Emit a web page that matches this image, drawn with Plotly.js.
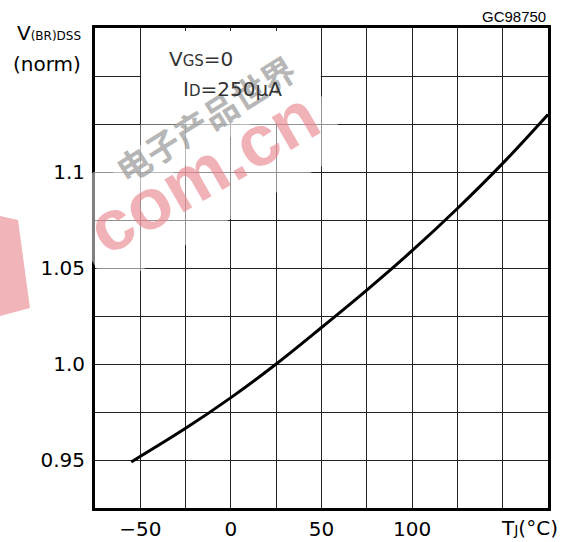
<!DOCTYPE html>
<html>
<head>
<meta charset="utf-8">
<script src="https://cdn.plot.ly/plotly-3.0.1.min.js"></script>
<style>html,body{margin:0;padding:0;background:#fff;}#chart{width:569px;height:542px;}</style>
</head>
<body>
<div id="chart"></div>
<script>
// Junction temperature (°C) and normalized breakdown voltage
var tempC = [-55, -25, 0, 25, 50, 75, 100, 125, 150, 175];
var vbrNorm = [0.949, 0.9665, 0.9825, 1.0, 1.019, 1.0385, 1.059, 1.081, 1.1045, 1.130];

// Grid / tick positions and labels
var xGridVals = [-75, -50, -25, 0, 25, 50, 75, 100, 125, 150, 175];
var xTickText = ['', '\u221250', '', '0', '', '50', '', '100', '', '', ''];
var yGridVals = [0.925, 0.95, 0.975, 1.0, 1.025, 1.05, 1.075, 1.1, 1.125, 1.15, 1.175];
var yTickText = ['', '0.95', '', '1.0', '', '1.05', '', '1.1', '', '', ''];

var FONT = 'DejaVu Sans, Verdana, sans-serif';
var FONT2 = 'Liberation Sans, Arial, sans-serif';

var trace = {
  x: tempC, y: vbrNorm, type: 'scatter', mode: 'lines',
  line: {color: '#000', width: 3, shape: 'spline', smoothing: 1.0},
  hoverinfo: 'skip', cliponaxis: true
};

var layout = {
  width: 569, height: 542,
  margin: {l: 95, r: 21, t: 28, b: 34, pad: 0},
  paper_bgcolor: '#fff', plot_bgcolor: '#fff',
  showlegend: false,
  font: {family: FONT, color: '#000', size: 20},
  xaxis: {
    range: [-75, 175], tickmode: 'array', tickvals: xGridVals, ticktext: xTickText,
    showgrid: true, gridcolor: '#222', gridwidth: 1, zeroline: false,
    showline: true, linecolor: '#000', linewidth: 3, mirror: true,
    ticks: '', ticklabelstandoff: 1, tickfont: {family: FONT, size: 20, color: '#000'},
    fixedrange: true
  },
  yaxis: {
    range: [0.925, 1.175], tickmode: 'array', tickvals: yGridVals, ticktext: yTickText,
    showgrid: true, gridcolor: '#222', gridwidth: 1, zeroline: false,
    showline: true, linecolor: '#000', linewidth: 3, mirror: true,
    ticks: '', ticklabelstandoff: 3, tickfont: {family: FONT, size: 20, color: '#000'},
    fixedrange: true
  },
  shapes: [
    {type: 'rect', xref: 'x', yref: 'y', x0: -49.6, x1: 49.6, y0: 1.1256, y1: 1.1735,
     fillcolor: '#fff', line: {width: 0}, layer: 'above'},
    // red watermark fragment at the left edge
    {type: 'path', xref: 'paper', yref: 'paper',
     path: 'M -0.2097,0.6083 L -0.1700,0.6000 L -0.1435,0.4167 L -0.2097,0.4000 Z',
     fillcolor: 'rgba(232,130,138,0.6)', line: {width: 0}, layer: 'above'}
  ],
  annotations: [
    // watermark
    {xref: 'paper', yref: 'paper', x: (203 - 95) / 453, y: (508 - 172) / 480,
     xanchor: 'center', yanchor: 'middle', textangle: -30,
     text: '<b>com.cn</b>', showarrow: false, bgcolor: 'rgba(255,255,255,0.5)', borderpad: 14,
     font: {family: FONT2, size: 72, color: 'rgba(232,130,138,0.62)'}},
    {xref: 'paper', yref: 'paper', x: (205 - 95) / 453, y: (508 - 118) / 480,
     xanchor: 'center', yanchor: 'middle', textangle: -32,
     text: '<b>电子产品世界</b>', showarrow: false, bgcolor: 'rgba(255,255,255,0.35)', borderpad: 4,
     font: {family: 'Noto Sans CJK SC, sans-serif', size: 34, color: 'rgba(150,150,150,0.7)'}},
    // labels
    {xref: 'paper', yref: 'paper', x: 1.0, y: 1.002, xanchor: 'right', yanchor: 'bottom',
     text: 'GC98750', showarrow: false, font: {family: FONT2, size: 15, color: '#000'}},
    {xref: 'paper', yref: 'paper', x: -0.026, y: 0.99, xanchor: 'right', yanchor: 'middle',
     text: 'V<span style="font-size:12px">(BR)DSS</span>', showarrow: false,
     font: {family: FONT, size: 20, color: '#000'}},
    {xref: 'paper', yref: 'paper', x: -0.026, y: 0.925, xanchor: 'right', yanchor: 'middle',
     text: '(norm)', showarrow: false, font: {family: FONT, size: 20, color: '#000'}},
    {xref: 'paper', yref: 'paper', x: 1.0265, y: -0.0417, xanchor: 'right', yanchor: 'middle',
     text: 'T<span style="font-size:14px">J</span>(\u00b0C)', showarrow: false,
     font: {family: FONT, size: 20, color: '#000'}},
    {xref: 'x', yref: 'y', x: -35.5, y: 1.1589, xanchor: 'left', yanchor: 'middle',
     text: 'V<span style="font-size:15px">GS</span>=0', showarrow: false,
     font: {family: FONT, size: 20, color: '#333'}},
    {xref: 'x', yref: 'y', x: -27.5, y: 1.143, xanchor: 'left', yanchor: 'middle',
     text: 'I<span style="font-size:15px">D</span>=250\u03bcA', showarrow: false,
     font: {family: FONT, size: 20, color: '#333'}}
  ]
};

Plotly.newPlot('chart', [trace], layout, {staticPlot: true, displayModeBar: false});
</script>
</body>
</html>
